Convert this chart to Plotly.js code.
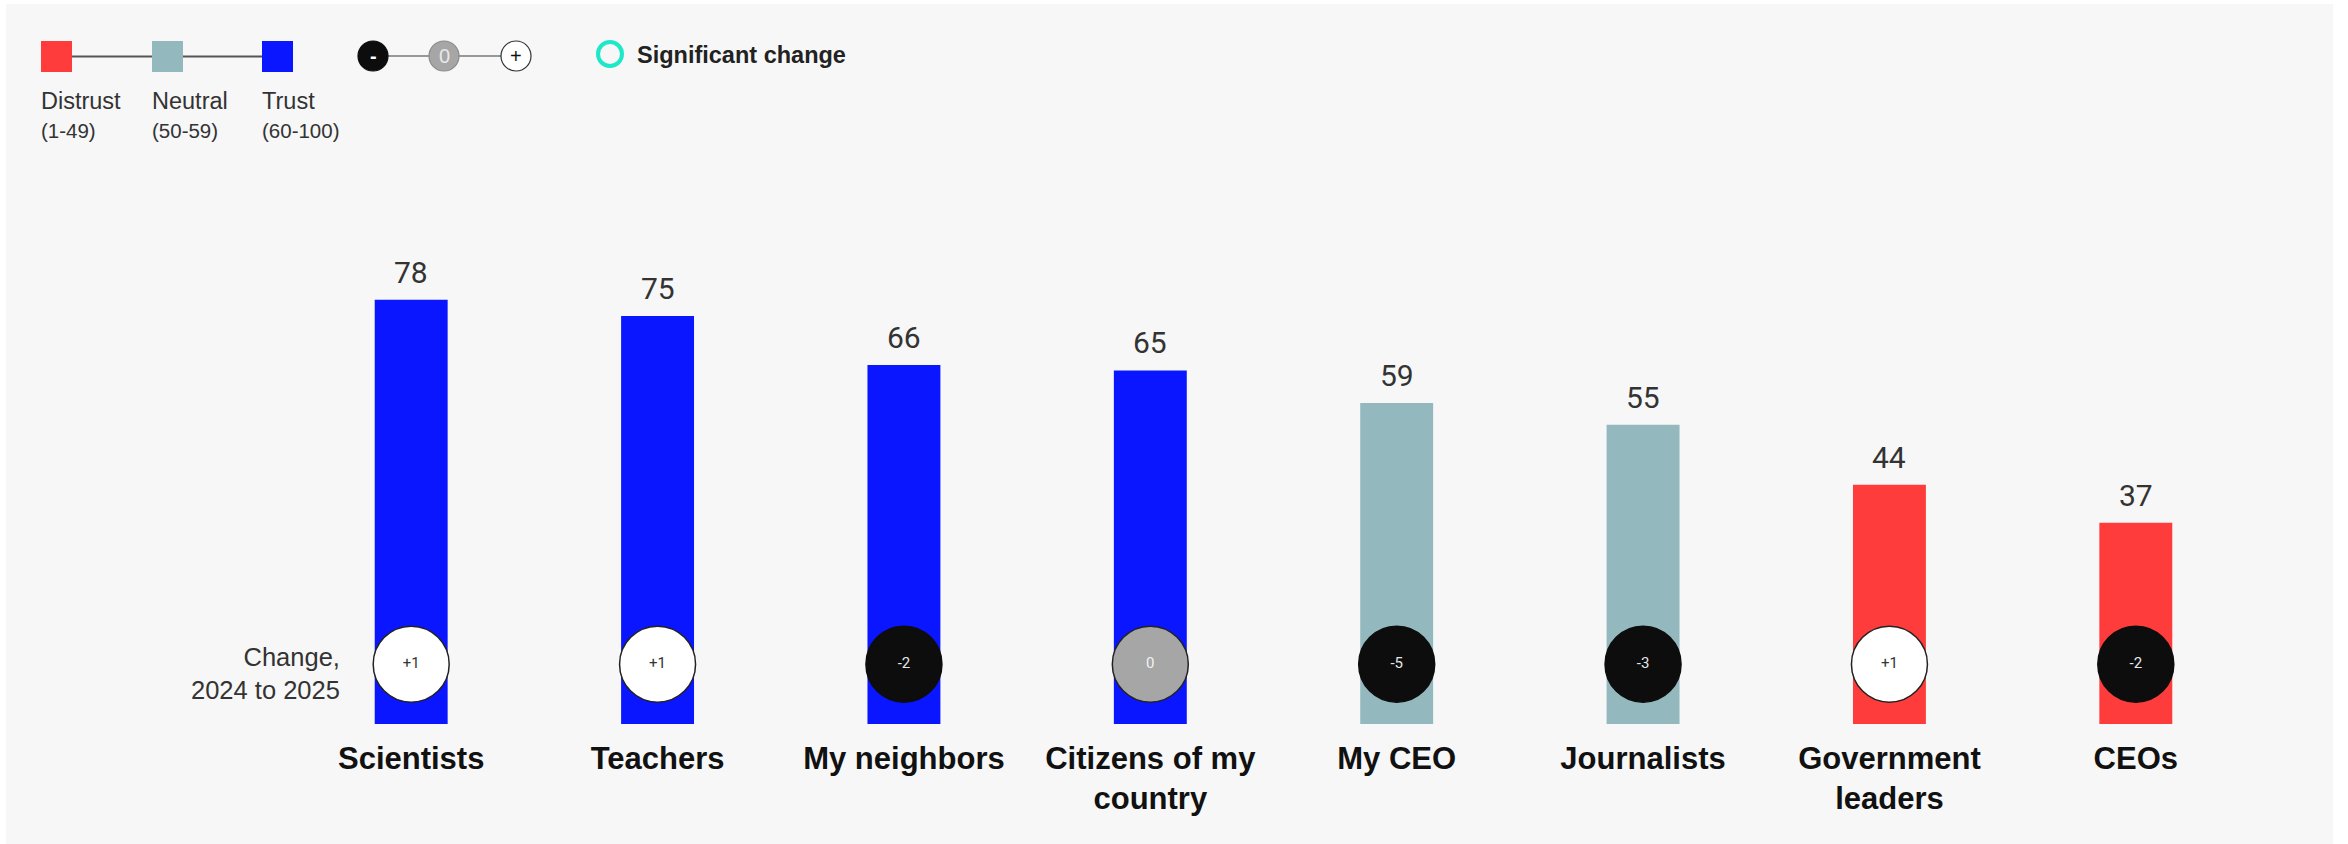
<!DOCTYPE html>
<html>
<head>
<meta charset="utf-8">
<script src="https://cdn.plot.ly/plotly-3.0.1.min.js"></script>
<style>
  html, body { margin: 0; padding: 0; background: #ffffff; }
  #chart { position: absolute; left: 6px; top: 4px; width: 2327px; height: 840px; }
</style>
</head>
<body>
<div id="chart"></div>
<script>
// ---- data ----
const categories = ['Scientists', 'Teachers', 'My neighbors', 'Citizens of my<br>country', 'My CEO', 'Journalists', 'Government<br>leaders', 'CEOs'];
const trustValues = [78, 75, 66, 65, 59, 55, 44, 37];
const changeValues = [1, 1, -2, 0, -5, -3, 1, -2];
const changeLabels = ['+1', '+1', '-2', '0', '-5', '-3', '+1', '-2'];
const legendLevels = ['Distrust', 'Neutral', 'Trust'];
const legendRanges = ['(1-49)', '(50-59)', '(60-100)'];

// ---- styles ----
const COL_DISTRUST = '#ff3c3c';
const COL_NEUTRAL = '#93b9bf';
const COL_TRUST = '#0a16ff';
const levelColors = [COL_DISTRUST, COL_NEUTRAL, COL_TRUST];
function barColor(v) { return v >= 60 ? COL_TRUST : (v >= 50 ? COL_NEUTRAL : COL_DISTRUST); }
function circleFill(c) { return c > 0 ? '#ffffff' : (c < 0 ? '#0d0d0d' : '#a6a6a6'); }
function circleText(c) { return c > 0 ? '#333333' : (c < 0 ? '#e6e6e6' : '#f2f2f2'); }
function circleLine(c) { return c < 0 ? '#0d0d0d' : '#222222'; }

const W = 2327, H = 840;
const M = { l: 282, r: 74, t: 176, b: 120 };
const PW = W - M.l - M.r, PH = H - M.t - M.b;
const px = x => (x - M.l) / PW;          // div px -> paper x
const py = y => (H - M.b - y) / PH;      // div px -> paper y
const CHANGE_Y = 11;
const FONT = 'Liberation Sans, Arial, sans-serif';

const bars = {
  type: 'bar',
  x: categories,
  y: trustValues,
  width: 0.296,
  marker: { color: trustValues.map(barColor), line: { width: 0 } },
  hoverinfo: 'x+y',
  showlegend: false
};

const circles = {
  type: 'scatter',
  mode: 'markers+text',
  x: categories,
  y: categories.map(() => CHANGE_Y),
  text: changeLabels,
  textposition: 'middle center',
  textfont: { family: 'Roboto, Arial, sans-serif', size: 15, color: changeValues.map(circleText) },
  marker: {
    size: 76,
    color: changeValues.map(circleFill),
    line: { width: 1.5, color: changeValues.map(circleLine) }
  },
  cliponaxis: false,
  hoverinfo: 'text',
  showlegend: false
};

const annotations = [];
// value labels
categories.forEach((c, i) => {
  annotations.push({
    x: c, y: trustValues[i], xref: 'x', yref: 'y',
    text: String(trustValues[i]), showarrow: false,
    yanchor: 'bottom', yshift: 8,
    font: { family: 'Roboto, Arial, sans-serif', size: 30, color: '#333333' }
  });
});
// change caption
annotations.push({
  x: categories[0], y: CHANGE_Y, xref: 'x', yref: 'y',
  xanchor: 'right', xshift: -69, yanchor: 'middle', yshift: -9,
  align: 'right', showarrow: false,
  text: 'Change,<br>2024 to 2025',
  font: { family: FONT, size: 25.5, color: '#333333' }
});

// ---- legend (decoration) ----
const shapes = [];
const sqX = [35, 146, 256];   // div px left edges of legend squares
const sqSize = 31, sqTop = 37;
shapes.push({ type: 'line', xref: 'paper', yref: 'paper',
  x0: px(sqX[0] + sqSize / 2), x1: px(sqX[2] + sqSize / 2), y0: py(sqTop + sqSize / 2), y1: py(sqTop + sqSize / 2),
  line: { color: '#555555', width: 2 }, layer: 'below' });
legendLevels.forEach((lv, i) => {
  shapes.push({ type: 'rect', xref: 'paper', yref: 'paper',
    x0: px(sqX[i]), x1: px(sqX[i] + sqSize), y0: py(sqTop + sqSize), y1: py(sqTop),
    fillcolor: levelColors[i], line: { width: 0 } });
  annotations.push({ xref: 'paper', yref: 'paper', x: px(sqX[i] - 2), y: py(97), xanchor: 'left', yanchor: 'middle',
    text: lv, showarrow: false, font: { family: FONT, size: 23.5, color: '#333333' } });
  annotations.push({ xref: 'paper', yref: 'paper', x: px(sqX[i] - 2), y: py(126), xanchor: 'left', yanchor: 'middle',
    text: legendRanges[i], showarrow: false, font: { family: FONT, size: 20.5, color: '#333333' } });
});
// change scale
const cX = [367, 438, 510], cY = 52, cR = 15;
const cFill = ['#0d0d0d', '#a6a6a6', '#ffffff'];
const cLine = ['#0d0d0d', '#8a8a8a', '#333333'];
const cText = ['<b>-</b>', '0', '+'];
const cTextCol = ['#ffffff', '#e8e8e8', '#111111'];
shapes.push({ type: 'line', xref: 'paper', yref: 'paper', x0: px(cX[0]), x1: px(cX[2]), y0: py(cY), y1: py(cY),
  line: { color: '#777777', width: 1.5 }, layer: 'below' });
cX.forEach((x, i) => {
  shapes.push({ type: 'circle', xref: 'paper', yref: 'paper',
    x0: px(x - cR), x1: px(x + cR), y0: py(cY + cR), y1: py(cY - cR),
    fillcolor: cFill[i], line: { color: cLine[i], width: 1.2 } });
  annotations.push({ xref: 'paper', yref: 'paper', x: px(x), y: py(cY), xanchor: 'center', yanchor: 'middle',
    text: cText[i], showarrow: false, font: { family: FONT, size: 20, color: cTextCol[i] } });
});
// significant change
shapes.push({ type: 'circle', xref: 'paper', yref: 'paper',
  x0: px(604 - 12), x1: px(604 + 12), y0: py(50 + 12), y1: py(50 - 12),
  fillcolor: 'rgba(0,0,0,0)', line: { color: '#1de9c8', width: 4 } });
annotations.push({ xref: 'paper', yref: 'paper', x: px(629), y: py(51), xanchor: 'left', yanchor: 'middle',
  text: '<b>Significant change</b>', showarrow: false,
  font: { family: FONT, size: 23.5, color: '#222222' } });

const layout = {
  width: W, height: H,
  margin: M,
  paper_bgcolor: '#f7f7f7',
  plot_bgcolor: '#f7f7f7',
  font: { family: FONT, color: '#333333' },
  showlegend: false,
  xaxis: {
    type: 'category', range: [-0.5, 7.5], fixedrange: true,
    showgrid: false, zeroline: false, showline: false, ticks: '',
    ticklabelstandoff: 13,
    tickfont: { family: FONT, size: 31, color: '#111111', weight: 'bold' }
  },
  yaxis: {
    range: [0, 100], fixedrange: true,
    showgrid: false, zeroline: false, showline: false, showticklabels: false, ticks: ''
  },
  shapes: shapes,
  annotations: annotations,
  bargap: 0.7
};

Plotly.newPlot('chart', [bars, circles], layout, { displayModeBar: false, staticPlot: true });
</script>
</body>
</html>
